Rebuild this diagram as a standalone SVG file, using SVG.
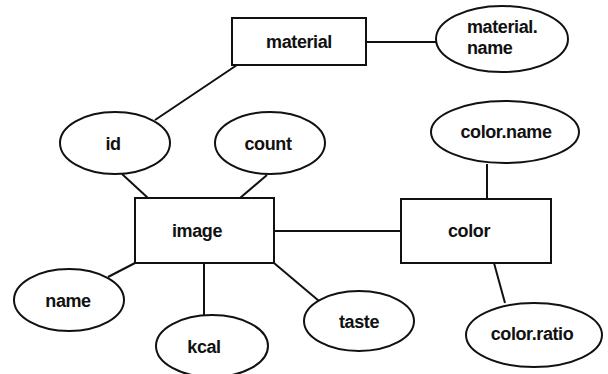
<svg xmlns="http://www.w3.org/2000/svg" width="608" height="374" viewBox="0 0 608 374">
<style>
.s{fill:#fff;stroke:#111;stroke-width:2}
.l{stroke:#111;stroke-width:2;fill:none}
text{font-family:"Liberation Sans",Arial,sans-serif;font-size:18px;font-weight:bold;fill:#111;text-anchor:middle;letter-spacing:-0.4px}
</style>
<rect width="608" height="374" fill="#fff"/>
<g id="connectors">
<line class="l" x1="366" y1="42" x2="436" y2="42"/>
<line class="l" x1="237" y1="65" x2="155" y2="120"/>
<line class="l" x1="122" y1="174" x2="148" y2="198"/>
<line class="l" x1="267" y1="175" x2="240" y2="198"/>
<line class="l" x1="274" y1="231" x2="401" y2="231"/>
<line class="l" x1="487" y1="164" x2="487" y2="199"/>
<line class="l" x1="135" y1="263" x2="108" y2="277"/>
<line class="l" x1="204" y1="263" x2="204" y2="315"/>
<line class="l" x1="274" y1="263" x2="319" y2="301"/>
<line class="l" x1="494" y1="263" x2="505" y2="303"/>
</g>
<g id="material"><rect class="s" x="232" y="18" width="134" height="47"/><text x="299" y="48">material</text></g>
<g id="material.name"><ellipse class="s" cx="502" cy="39" rx="66" ry="33"/><text x="467" y="33" style="text-anchor:start">material.</text><text x="467" y="54" style="text-anchor:start">name</text></g>
<g id="id"><ellipse class="s" cx="115" cy="143" rx="55" ry="31"/><text x="113" y="150">id</text></g>
<g id="count"><ellipse class="s" cx="270" cy="143" rx="55" ry="31"/><text x="268" y="150">count</text></g>
<g id="color.name"><ellipse class="s" cx="505" cy="132" rx="74" ry="31"/><text x="506" y="138">color.name</text></g>
<g id="image"><rect class="s" x="135" y="198" width="139" height="65"/><text x="197" y="237">image</text></g>
<g id="color"><rect class="s" x="401" y="199" width="150" height="64"/><text x="469" y="237">color</text></g>
<g id="name"><ellipse class="s" cx="69" cy="300" rx="55" ry="31"/><text x="68" y="307">name</text></g>
<g id="kcal"><ellipse class="s" cx="212" cy="346" rx="56" ry="31"/><text x="204" y="353">kcal</text></g>
<g id="taste"><ellipse class="s" cx="359" cy="321" rx="55" ry="30"/><text x="359" y="328">taste</text></g>
<g id="color.ratio"><ellipse class="s" cx="534" cy="335" rx="68" ry="32"/><text x="532" y="340">color.ratio</text></g>
</svg>
